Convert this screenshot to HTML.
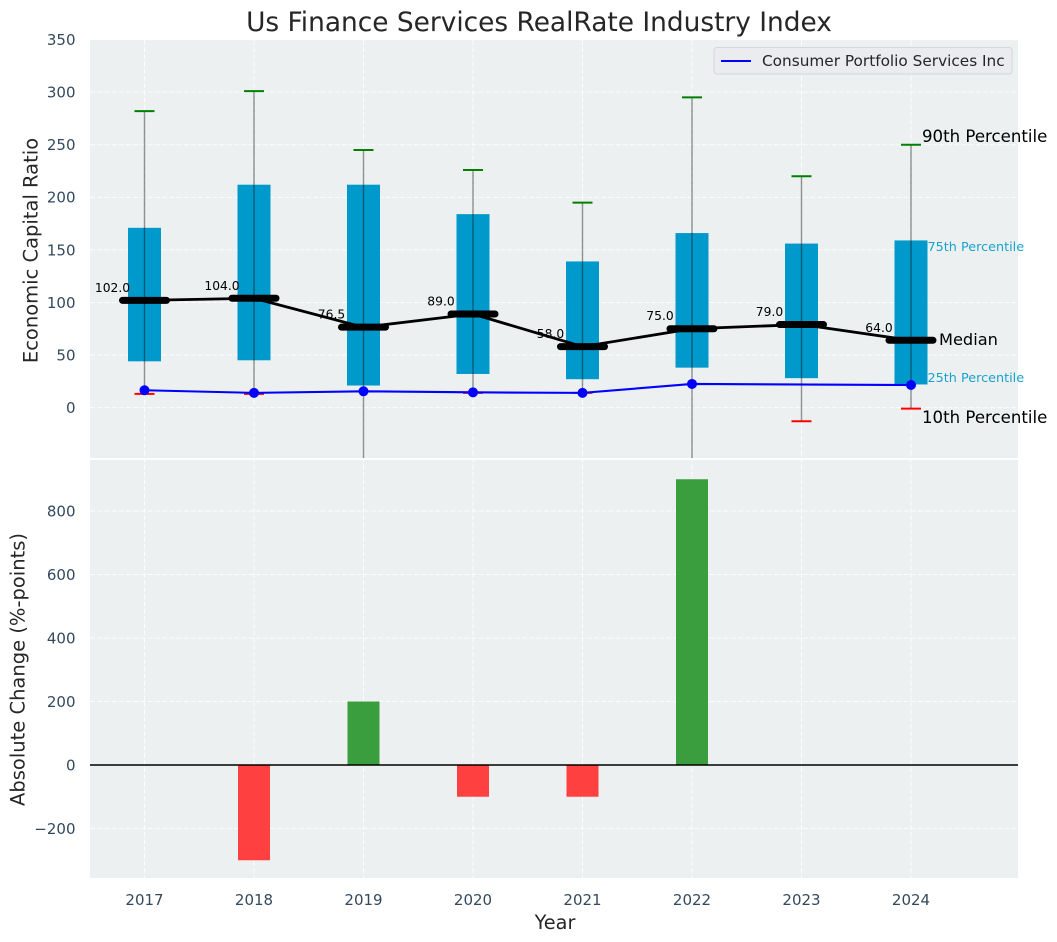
<!DOCTYPE html>
<html lang="en">
<head>
<meta charset="utf-8">
<title>Us Finance Services RealRate Industry Index</title>
<style>
html,body{margin:0;padding:0;background:#fff;width:1057px;height:942px;overflow:hidden}
svg{display:block;font-family:"DejaVu Sans","Liberation Sans",sans-serif}
</style>
</head>
<body>
<svg id="chart" xmlns="http://www.w3.org/2000/svg" width="1057" height="942" viewBox="0 0 1057 942">
<defs>
<clipPath id="clip-top"><rect x="90" y="40" width="928" height="418"></rect></clipPath>
<clipPath id="clip-bottom"><rect x="90" y="460" width="928" height="418"></rect></clipPath>
</defs>
<rect x="90" y="40" width="928" height="418" fill="#ecf0f1"></rect>
<rect x="90" y="460" width="928" height="418" fill="#ecf0f1"></rect>
<g id="grid-layer"></g>
<g id="top-layer" clip-path="url(#clip-top)"></g>
<g id="bottom-layer" clip-path="url(#clip-bottom)"></g>
<g id="axis-layer"></g>
<text x="539" y="31" text-anchor="middle" font-size="26.4" fill="#262626">Us Finance Services RealRate Industry Index</text>
<text transform="translate(37.5 250.5) rotate(-90)" text-anchor="middle" font-size="19.5" fill="#262626">Economic Capital Ratio</text>
<text transform="translate(24.5 669.5) rotate(-90)" text-anchor="middle" font-size="19.5" fill="#262626">Absolute Change (%-points)</text>
<text x="555" y="929" text-anchor="middle" font-size="19.3" fill="#262626">Year</text>
<g>
<rect x="714" y="47.5" width="298" height="26.5" rx="3" fill="#eaecf0" stroke="#d4d6d9" stroke-width="1"></rect>
<line x1="721" y1="61" x2="751" y2="61" stroke="#0000ff" stroke-width="2"></line>
<text x="762" y="66" font-size="15.3" fill="#262626">Consumer Portfolio Services Inc</text>
</g>
<text x="922" y="142" font-size="16.6" fill="#000">90th Percentile</text>
<text x="927.5" y="251" font-size="12.8" fill="#0099cc" fill-opacity="0.9">75th Percentile</text>
<text x="939" y="345" font-size="16.2" fill="#000">Median</text>
<text x="927.5" y="382" font-size="12.8" fill="#0099cc" fill-opacity="0.9">25th Percentile</text>
<text x="922" y="423" font-size="16.6" fill="#000">10th Percentile</text>
</svg>
<script>
const years = [2017, 2018, 2019, 2020, 2021, 2022, 2023, 2024];
const p90 = [282, 301, 245, 226, 195, 295, 220, 250];
const p75 = [171, 212, 212, 184, 139, 166, 156, 159];
const medians = [102, 104, 76.5, 89, 58, 75, 79, 64];
const p25 = [44, 45, 21, 32, 27, 38, 28, 22];
const p10 = [13, 13, -60, 14, 14, -60, -13, -1];
const company = [16.5, 14, 15.5, 14.5, 14, 22.5, null, 21.5];
const changes = [null, -300, 200, -100, -100, 900, null, null];
const topTicks = [0, 50, 100, 150, 200, 250, 300, 350];
const bottomTicks = [-200, 0, 200, 400, 600, 800];

const NS = 'http://www.w3.org/2000/svg';
function make(parent, tag, attrs, text) {
  const el = document.createElementNS(NS, tag);
  for (const k in attrs) el.setAttribute(k, attrs[k]);
  if (text !== undefined) el.textContent = text;
  parent.appendChild(el);
  return el;
}
function xPos(i) { return 144.5 + i * 109.5; }
function yTop(v) { return 407.6 - v * 1.0514; }
function yBottom(v) { return 765 - v * 0.3175; }

const gridLayer = document.getElementById('grid-layer');
const topLayer = document.getElementById('top-layer');
const bottomLayer = document.getElementById('bottom-layer');
const axisLayer = document.getElementById('axis-layer');
const gridStyle = { stroke: '#ffffff', 'stroke-width': 1, 'stroke-dasharray': '5 2.2', 'stroke-opacity': 0.85 };

topTicks.forEach(function (t) {
  const y = yTop(t);
  const line = make(gridLayer, 'line', Object.assign({ x1: 90, x2: 1018, y1: y, y2: y }, gridStyle));
  
  
  const label = make(axisLayer, 'text', { x: 75.5, y: y + 5.4, 'text-anchor': 'end', 'font-size': 15, fill: '#34495e' }, String(t));
  
  
});
bottomTicks.forEach(function (t) {
  const y = yBottom(t);
  if (t !== 0) {
    const line = make(gridLayer, 'line', Object.assign({ x1: 90, x2: 1018, y1: y, y2: y }, gridStyle));
    
    
  }
  const label = make(axisLayer, 'text', { x: 75.5, y: y + 5.4, 'text-anchor': 'end', 'font-size': 15, fill: '#34495e' }, String(t).replace('-', '\u2212'));
  
  
});
years.forEach(function (yr, i) {
  const x = xPos(i);
  const a = make(gridLayer, 'line', Object.assign({ x1: x, x2: x, y1: 40, y2: 878 }, gridStyle));
  
  
  const label = make(axisLayer, 'text', { x: x, y: 905, 'text-anchor': 'middle', 'font-size': 15, fill: '#34495e' }, String(yr));
  
  
});
const gap = make(gridLayer, 'rect', { x: 90, y: 458, width: 928, height: 2, fill: '#ffffff' });



/* boxes */
years.forEach(function (yr, i) {
  const x = xPos(i);
  const box = make(topLayer, 'rect', { x: x - 16.5, y: yTop(p75[i]), width: 33, height: yTop(p25[i]) - yTop(p75[i]), fill: '#0099cc' });
  
  
});
/* whiskers */
years.forEach(function (yr, i) {
  const x = xPos(i);
  const whisker = make(topLayer, 'line', { x1: x, x2: x, y1: yTop(p90[i]), y2: yTop(p10[i]), stroke: '#000', 'stroke-opacity': 0.42, 'stroke-width': 1.4 });
  
  
  const hi = make(topLayer, 'line', { x1: x - 10, x2: x + 10, y1: yTop(p90[i]), y2: yTop(p90[i]), stroke: '#008000', 'stroke-width': 2 });
  
  
  const lo = make(topLayer, 'line', { x1: x - 10, x2: x + 10, y1: yTop(p10[i]), y2: yTop(p10[i]), stroke: '#ff0000', 'stroke-width': 2 });
  
  
});
/* median connecting line */
const medianLine = make(topLayer, 'polyline', {
  points: medians.map(function (v, i) { return xPos(i) + ',' + yTop(v); }).join(' '),
  fill: 'none', stroke: '#000', 'stroke-width': 2.8
});


medians.forEach(function (v, i) {
  const x = xPos(i);
  const y = yTop(v);
  const bar = make(topLayer, 'line', { x1: x - 22, x2: x + 22, y1: y, y2: y, stroke: '#000', 'stroke-width': 7, 'stroke-linecap': 'round' });
  
  
  const label = make(topLayer, 'text', { x: x - 32, y: y - 8.5, 'text-anchor': 'middle', 'font-size': 12.3, fill: '#000' }, v.toFixed(1));
  
  
});
/* company series: missing years are skipped and the line joins across them */
const companyPoints = [];
company.forEach(function (v, i) { if (v !== null) companyPoints.push(xPos(i) + ',' + yTop(v)); });
const companyLine = make(topLayer, 'polyline', { points: companyPoints.join(' '), fill: 'none', stroke: '#0000ff', 'stroke-width': 2.1 });


company.forEach(function (v, i) {
  if (v === null) return;
  const dot = make(topLayer, 'circle', { cx: xPos(i), cy: yTop(v), r: 5, fill: '#0000ff' });
  
  
});
/* change bars */
changes.forEach(function (v, i) {
  if (v === null) return;
  const y0 = yBottom(0);
  const y1 = yBottom(v);
  const bar = make(bottomLayer, 'rect', {
    x: xPos(i) - 16, width: 32, y: Math.min(y0, y1), height: Math.abs(y1 - y0),
    fill: v >= 0 ? '#3a9e3e' : '#ff4040'
  });
  
  
});
const zero = make(bottomLayer, 'line', { x1: 90, x2: 1018, y1: yBottom(0), y2: yBottom(0), stroke: '#000', 'stroke-width': 1.5 });


</script>
</body>
</html>
